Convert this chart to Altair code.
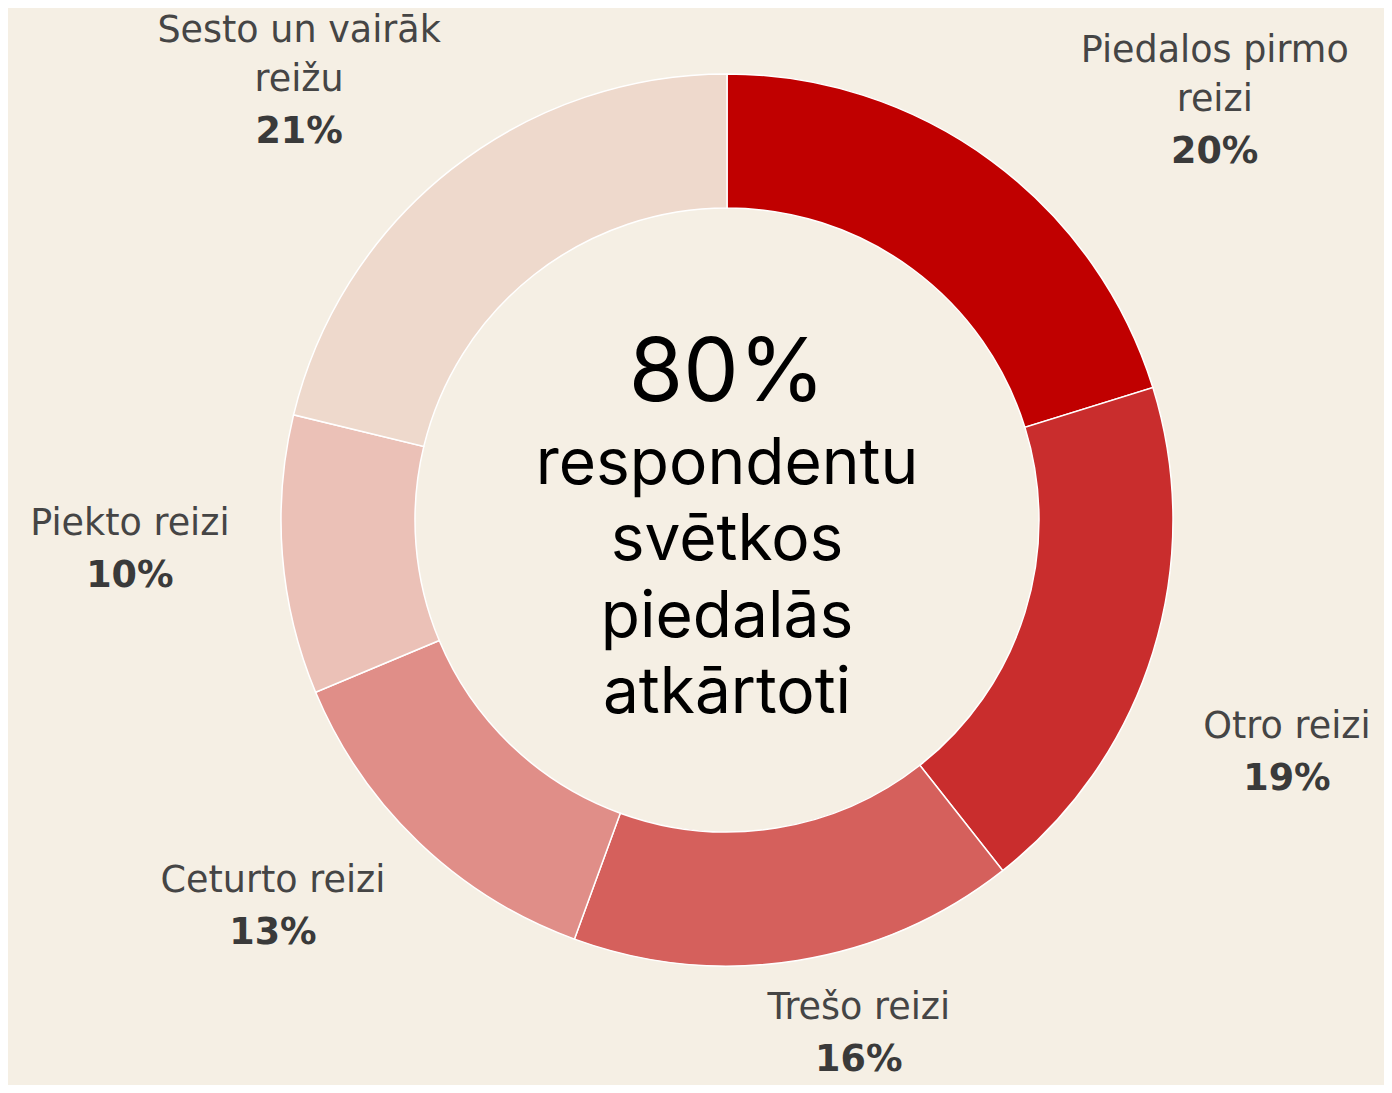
import altair as alt
import pandas as pd

# ---- data -------------------------------------------------------------
categories = ["Piedalos pirmo reizi", "Otro reizi", "Trešo reizi",
              "Ceturto reizi", "Piekto reizi", "Sesto un vairāk reižu"]
label_lines = ["Piedalos pirmo\nreizi", "Otro reizi", "Trešo reizi",
               "Ceturto reizi", "Piekto reizi", "Sesto un vairāk\nreižu"]
values = [20, 19, 16, 13, 10, 21]
colors = ["#C00000", "#C92D2D", "#D5605C", "#E08E88", "#EBC1B7", "#EED9CC"]
center_big = "80%"
center_lines = "respondentu\nsvētkos\npiedalās\natkārtoti"

# manual label nudges (dx, dy) from the mid-angle anchor, like hand-placed labels
NUDGES = [(132, 88), (-13, 54), (37, -79), (-40, -48), (1, -19), (-57, 57)]

BG = "#F5EFE4"
LABEL_FONT = "DejaVu Sans"
CENTER_FONT = "Inter"
LABEL_SIZE = 36.5
LINE_H = 49

df = pd.DataFrame({
    "category": categories,
    "label": label_lines,
    "value": values,
    "idx": list(range(len(values))),
})
df["pct"] = [f"{v}%" for v in values]

arc = alt.Chart(df).mark_arc(
    innerRadius=312, outerRadius=446, stroke="#ffffff", strokeWidth=1.5
).encode(
    theta=alt.Theta("value:Q", stack=True),
    order=alt.Order("idx:Q", sort="ascending"),
    color=alt.Color("category:N", scale=alt.Scale(domain=categories, range=colors), legend=None),
)

lab = (
    alt.Chart(df)
    .transform_joinaggregate(total="sum(value)")
    .transform_window(cum="sum(value)", sort=[alt.SortField("idx")], frame=[None, 0])
    .transform_calculate(mid="(datum.cum - datum.value/2)/datum.total*2*PI")
)

layers = [arc]
for i, (ndx, ndy) in enumerate(NUDGES):
    b = lab.transform_filter(f"datum.idx == {i}")
    theta = alt.Theta("mid:Q", scale=None, stack=False)
    n_lines = label_lines[i].count("\n") + 1
    name = b.mark_text(
        radius=600, dx=ndx, dy=ndy - 25 - (n_lines - 1) * LINE_H, baseline="middle", align="center",
        lineBreak="\n", lineHeight=LINE_H, font=LABEL_FONT, fontSize=LABEL_SIZE, color="#454545",
    ).encode(theta=theta, text="label:N")
    pct = b.mark_text(
        radius=600, dx=ndx, dy=ndy + 27, baseline="middle", align="center",
        font=LABEL_FONT, fontSize=LABEL_SIZE, fontWeight="bold", color="#3a3a3a",
    ).encode(theta=theta, text="pct:N")
    layers += [name, pct]

center_df = pd.DataFrame({"big": [center_big], "lines": [center_lines]})
big = alt.Chart(center_df).mark_text(
    font=CENTER_FONT, fontSize=88, dy=-145, baseline="middle", align="center", color="#000000"
).encode(text="big:N")
lines = alt.Chart(center_df).mark_text(
    font=CENTER_FONT, fontSize=64, dy=-55, baseline="middle", align="center",
    lineBreak="\n", lineHeight=76.3, color="#000000"
).encode(text="lines:N")
layers += [big, lines]

chart = alt.layer(*layers).properties(
    width=1300, height=1000,
    padding={"left": 69, "top": 12, "right": 7, "bottom": 65},
    autosize=alt.AutoSizeParams(type="none"),
    background=BG,
).configure_view(stroke=None)

chart.save("out.html", embed_options={"renderer": "svg", "actions": False})
